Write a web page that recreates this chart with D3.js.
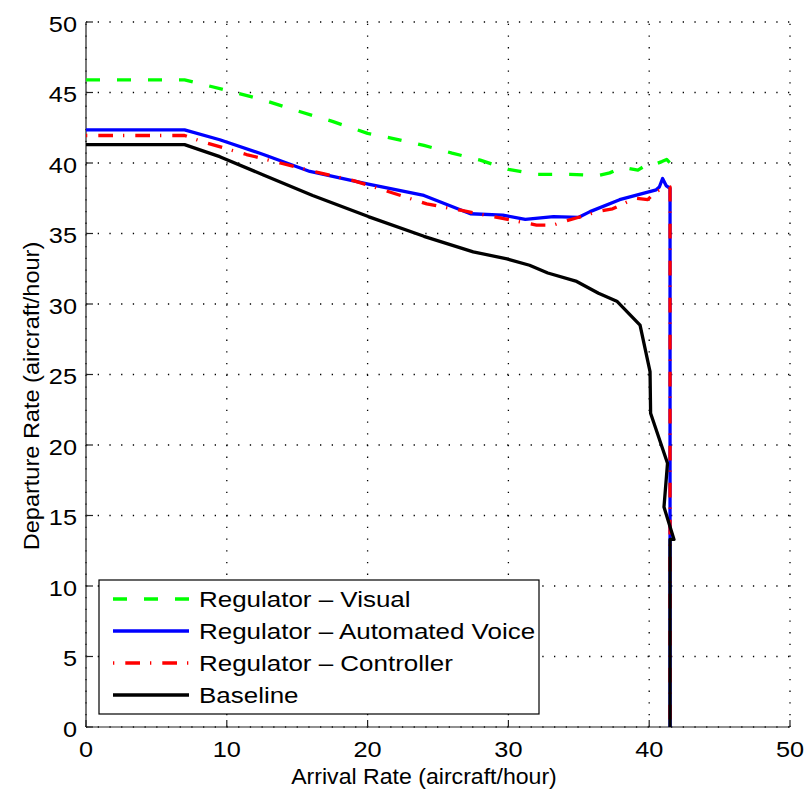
<!DOCTYPE html>
<html><head><meta charset="utf-8">
<script src="https://cdn.jsdelivr.net/npm/d3@7"></script>
<style>body{margin:0;background:#fff}svg{display:block}</style>
</head><body>
<script>
const xTicks = [0,10,20,30,40,50];
const yTicks = [0,5,10,15,20,25,30,35,40,45,50];
const seriesNames = ["Regulator \u2013 Visual","Regulator \u2013 Automated Voice","Regulator \u2013 Controller","Baseline"];
const visual = [[0,45.9],[7,45.9],[8,45.65],[10,45.15],[12.5,44.5],[15,43.7],[17.5,42.95],[20,42.1],[22,41.7],[24,41.25],[26,40.7],[28,40.2],[30,39.55],[32,39.2],[34.4,39.2],[36.3,39.1],[37.2,39.3],[38.1,39.7],[39.2,39.5],[39.7,39.8],[40.2,40.1],[40.6,39.99],[40.9,40.1],[41.24,40.25],[41.48,40.0],[41.48,39.5]];
const autoVoice = [[0,42.35],[7,42.35],[9.5,41.65],[12.6,40.6],[15.9,39.4],[20.05,38.5],[24,37.7],[27.3,36.4],[29.6,36.3],[31.2,36.0],[33.2,36.2],[35,36.15],[35.8,36.55],[37.9,37.4],[40.5,38.1],[40.72,38.3],[40.95,38.9],[41.2,38.4],[41.48,38.2],[41.48,0]];
const controller = [[0,41.95],[7,41.95],[8.3,41.5],[11.4,40.6],[13.8,40.0],[16.6,39.3],[19,38.75],[21.4,38.0],[24.2,37.1],[26.6,36.65],[29.4,36.1],[32,35.6],[33.2,35.6],[34.1,35.9],[35,36.15],[36.5,36.6],[37.4,36.75],[39,37.5],[39.9,37.4],[40.5,38.0],[41.48,38.3],[41.48,0]];
const baseline = [[0,41.3],[7,41.3],[9.5,40.45],[12.6,39.15],[16.1,37.7],[20.05,36.2],[24,34.8],[27.5,33.7],[29.9,33.2],[31.5,32.75],[32.8,32.2],[34.85,31.6],[36.4,30.76],[37.7,30.2],[39.35,28.5],[40.06,25.2],[40.1,22.25],[41.3,18.7],[41.05,15.6],[41.76,13.3],[41.48,13.3],[41.48,0]];
const seriesData = [visual, autoVoice, controller, baseline];
const colors = ["#00ff00","#0000ff","#ff0000","#000000"];
const dashes = ["14,17",null,"1.3,11,14.7,10",null];

const W=806,H=792;
const FONT="'Liberation Sans', Arial, Helvetica, sans-serif";
const svg=d3.select("body").append("svg").attr("width",W).attr("height",H);
const x=d3.scaleLinear().domain([0,50]).range([86,790]);
const y=d3.scaleLinear().domain([0,50]).range([727,22]);

function txt(px,py,s,fs,sx,anchor,rot){
  const g=svg.append("g").attr("transform",`translate(${px},${py}) rotate(${rot||0}) scale(${sx},1)`);
  g.append("text").attr("x",0).attr("y",0).attr("text-anchor",anchor).attr("font-family",FONT).attr("font-size",fs).attr("fill","#000").text(s);
}

// grid
const grid=svg.append("g").attr("stroke","#000").attr("stroke-width",1.3).attr("stroke-dasharray","1.3,10.4");
xTicks.forEach(t=>grid.append("line").attr("x1",x(t)).attr("x2",x(t)).attr("y1",y(0)).attr("y2",y(50)));
yTicks.forEach(t=>grid.append("line").attr("x1",x(0)).attr("x2",x(50)).attr("y1",y(t)).attr("y2",y(t)));

// axes
const ax=svg.append("g").attr("stroke","#222").attr("stroke-width",1.2);
ax.append("line").attr("x1",x(0)).attr("x2",x(0)).attr("y1",y(0)).attr("y2",y(50));
ax.append("line").attr("x1",x(0)).attr("x2",x(50)).attr("y1",y(0)).attr("y2",y(0));
xTicks.forEach(t=>ax.append("line").attr("x1",x(t)).attr("x2",x(t)).attr("y1",y(0)).attr("y2",y(0)-7));
yTicks.forEach(t=>ax.append("line").attr("x1",x(0)).attr("x2",x(0)+7).attr("y1",y(t)).attr("y2",y(t)));

xTicks.forEach(t=>txt(x(t),757,String(t),22,1.15,"middle"));
yTicks.forEach(t=>txt(77,y(t)+9.5,String(t),22,1.15,"end"));
txt(424,784,"Arrival Rate (aircraft/hour)",22,1.05,"middle");
txt(39,396,"Departure Rate (aircraft/hour)",22,1.07,"middle",-90);

// series
const line=d3.line().x(d=>x(d[0])).y(d=>y(d[1]));
seriesData.forEach((d,i)=>{
  const p=svg.append("path").attr("d",line(d)).attr("fill","none").attr("stroke",colors[i]).attr("stroke-width",3.3).attr("stroke-linejoin","round");
  if(dashes[i]) p.attr("stroke-dasharray",dashes[i]);
});

// legend
const lg=svg.append("g");
lg.append("rect").attr("x",99).attr("y",580).attr("width",440).attr("height",134).attr("fill","#fff").attr("stroke","#000").attr("stroke-width",1.2);
seriesNames.forEach((n,i)=>{
  const ly=599+i*32;
  const l=lg.append("line").attr("x1",113).attr("x2",189).attr("y1",ly).attr("y2",ly).attr("stroke",colors[i]).attr("stroke-width",3.3);
  if(dashes[i]) l.attr("stroke-dasharray",dashes[i]);
  txt(199,ly+8,n,22,1.18,"start");
});
</script>
</body></html>
